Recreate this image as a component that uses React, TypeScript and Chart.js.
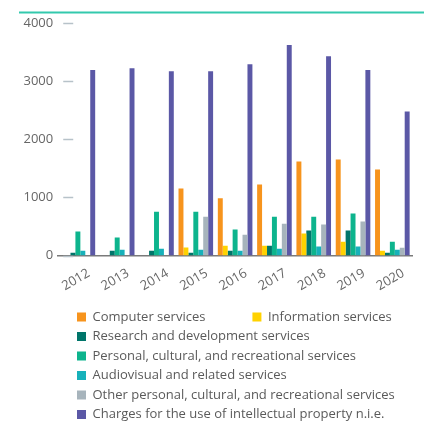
import React, { useEffect, useRef } from "react";
import { Chart, registerables } from "chart.js";

Chart.register(...registerables);

const years = ["2012", "2013", "2014", "2015", "2016", "2017", "2018", "2019", "2020"];
const yTicks = [0, 1000, 2000, 3000, 4000];

const computerServices = [0, 0, 0, 1155, 985, 1225, 1620, 1655, 1480];
const informationServices = [0, 0, 0, 140, 170, 170, 380, 240, 85];
const researchDevelopment = [50, 85, 85, 50, 85, 170, 430, 430, 50];
const personalCultural = [415, 310, 755, 755, 450, 670, 670, 725, 240];
const audiovisual = [85, 100, 120, 100, 85, 120, 155, 155, 100];
const otherPersonal = [0, 0, 0, 670, 360, 550, 535, 585, 135];
const ipCharges = [3190, 3220, 3170, 3170, 3290, 3620, 3430, 3190, 2480];

const seriesNames = [
  "Computer services",
  "Information services",
  "Research and development services",
  "Personal, cultural, and recreational services",
  "Audiovisual and related services",
  "Other personal, cultural, and recreational services",
  "Charges for the use of intellectual property n.i.e.",
];
const seriesValues = [
  computerServices,
  informationServices,
  researchDevelopment,
  personalCultural,
  audiovisual,
  otherPersonal,
  ipCharges,
];
const seriesColors = ["#F7941D", "#FFD200", "#00756A", "#0DB48D", "#17B1BA", "#A7B4BC", "#5B58A6"];

const FONT = "'Open Sans', sans-serif";

export default function App() {
  const ref = useRef<HTMLCanvasElement | null>(null);

  useEffect(() => {
    if (!ref.current) return;
    const LEGEND_PAD = 6.5;
    const decor = {
      id: "decor",
      afterLayout(chart: any) {
        const lg = chart.legend;
        if (lg) {
          const dx = 77 - LEGEND_PAD - lg.left;
          lg.left += dx;
          lg.right += dx;
          lg.top += 11;
          lg.bottom += 11;
        }
      },
      beforeDraw(chart: any) {
        const ctx = chart.ctx;
        ctx.save();
        ctx.strokeStyle = "#33C9AD";
        ctx.lineWidth = 2;
        ctx.beginPath();
        ctx.moveTo(19, 12.5);
        ctx.lineTo(424, 12.5);
        ctx.stroke();
        ctx.restore();
      },
      beforeDatasetsDraw(chart: any) {
        const ctx = chart.ctx;
        const y = chart.scales.y;
        const left = chart.chartArea.left;
        ctx.save();
        ctx.strokeStyle = "#B7C2C9";
        ctx.lineWidth = 1.5;
        for (const v of yTicks) {
          const py = Math.round(y.getPixelForValue(v)) + 0.5;
          ctx.beginPath();
          ctx.moveTo(left + 5, py);
          ctx.lineTo(left + 15, py);
          ctx.stroke();
        }
        ctx.restore();
      },
    };

    const chart = new Chart(ref.current, {
      type: "bar",
      data: {
        labels: years,
        datasets: seriesNames.map((name, i) => ({
          label: name,
          data: seriesValues[i],
          backgroundColor: seriesColors[i],
          borderWidth: 0,
          barPercentage: 1,
          categoryPercentage: 0.88,
        })),
      },
      options: {
        responsive: false,
        animation: false,
        layout: { padding: { left: 18.5, right: 12, top: 23, bottom: 2 } },
        scales: {
          x: {
            grid: { display: false },
            border: { display: true, color: "#7A7A7A", width: 1.5 },
            afterFit: (axis: any) => {
              axis.paddingLeft = 0;
              axis.paddingRight = 0;
              axis.height -= 3;
            },
            ticks: {
              color: "#666666",
              font: { family: FONT, size: 13 },
              minRotation: 30,
              maxRotation: 30,
              labelOffset: 11,
              padding: 2,
            },
          },
          y: {
            min: 0,
            max: 4000,
            grid: { display: false, drawTicks: false },
            border: { display: false },
            afterBuildTicks: (axis: any) => {
              axis.ticks = yTicks.map((v) => ({ value: v }));
            },
            ticks: {
              color: "#666666",
              font: { family: FONT, size: 13 },
              padding: 5,
              callback: (v: any) => String(v),
            },
          },
        },
        plugins: {
          tooltip: { enabled: false },
          legend: {
            position: "bottom",
            align: "start",
            labels: {
              boxWidth: 9,
              boxHeight: 9,
              padding: LEGEND_PAD,
              color: "#5A5A5A",
              font: { family: FONT, size: 13 },
              generateLabels: (c: any) => {
                const items = Chart.defaults.plugins.legend.labels.generateLabels(c);
                items.forEach((it: any) => {
                  it.lineWidth = 0;
                  it.strokeStyle = "rgba(0,0,0,0)";
                });
                items[0].text = items[0].text + "\u00A0".repeat(12);
                return items;
              },
            },
          },
        },
      },
      plugins: [decor],
    } as any);

    return () => chart.destroy();
  }, []);

  return (
    <div style={{ position: "fixed", left: 0, top: 0, width: 424, height: 422, background: "#fff" }}>
      <canvas ref={ref} width={424} height={422} style={{ display: "block" }} />
    </div>
  );
}
